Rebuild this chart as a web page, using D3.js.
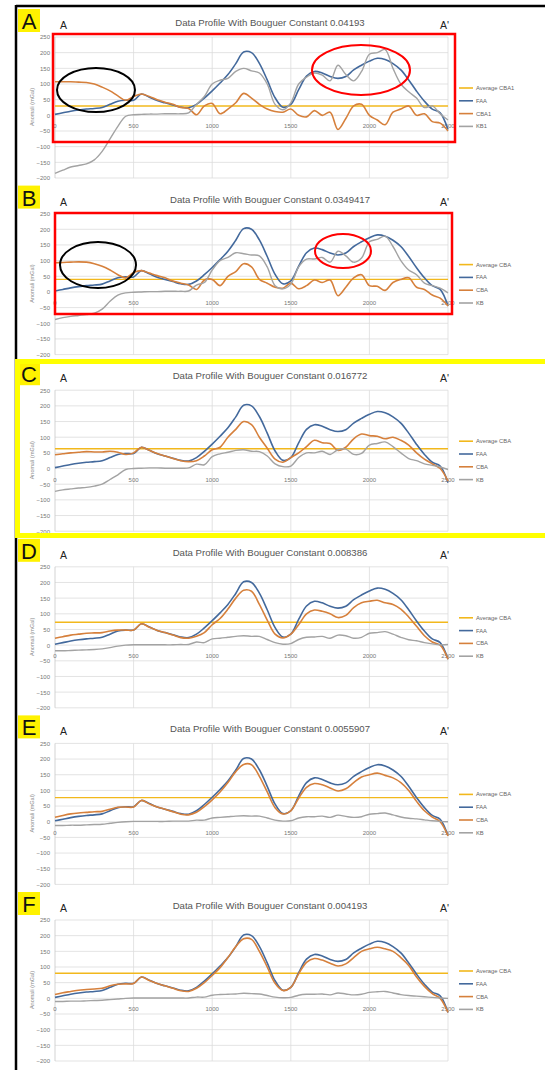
<!DOCTYPE html>
<html>
<head>
  <meta charset="UTF-8">
  <title>Data Profile - Bouguer Constant</title>
  <style>
    body { margin: 0; background: #fff; }
    svg { display: block; font-family: "Liberation Sans", Arial, sans-serif; }
  </style>
</head>
<body>
  <svg width="545" height="1070"></svg>

  <script src="https://d3js.org/d3.v7.min.js"></script>
  <script>
    // distance along profile A - A'
    const distance = [0, 50, 100, 150, 200, 250, 300, 350, 400, 450, 500, 550, 600, 650, 700, 750, 800, 850, 900, 950,
      1000, 1050, 1100, 1150, 1200, 1250, 1300, 1350, 1400, 1450, 1500, 1550, 1600, 1650, 1700, 1750, 1800, 1850, 1900, 1950,
      2000, 2050, 2100, 2150, 2200, 2250, 2300, 2350, 2400, 2450, 2500];

    const xTicks = [0, 500, 1000, 1500, 2000, 2500];
    const yTicks = [250, 200, 150, 100, 50, 0, -50, -100, -150, -200];

    // free air anomaly (same in every panel)
    const faa = [3, 8, 13, 17, 20, 22, 25, 35, 45, 48, 48, 68, 58, 47, 40, 33, 26, 24, 35, 55,
      78, 103, 130, 165, 202, 200, 166, 113, 56, 26, 35, 82, 125, 140, 135, 124, 118, 124, 145, 160,
      173, 182, 178, 165, 145, 113, 77, 45, 20, 8, -45];

    const cbaA = [107, 107, 107, 106, 105, 100, 90, 78, 62, 48, 60, 68, 60, 50, 42, 35, 25, 22, 2, 30,
      38, 5, 20, 40, 70, 55, 35, 20, 12, 10, 20, 0, -5, 15, 0, 10, -45, -10, 30, 35,
      0, -15, -30, 10, 20, 30, 0, 5, -20, -25, -50];
    const kbA = [-185, -175, -165, -160, -155, -142, -115, -75, -35, -3, 2, 3, 4, 4, 5, 5, 5, 8, 35, 60,
      100, 112, 118, 140, 150, 142, 135, 100, 35, 18, 40, 100, 122, 135, 128, 110, 160, 130, 110, 140,
      195, 200, 210, 150, 100, 75, 55, 25, 30, 5, -15];

    const cbaB = [93, 94, 95, 96, 95, 90, 82, 70, 55, 45, 62, 68, 60, 52, 45, 35, 28, 22, 8, 38,
      40, 20, 50, 65, 90, 80, 40, 28, 15, 12, 28, 10, 20, 38, 30, 38, -12, 15, 45, 55,
      20, 18, 5, 30, 40, 45, 15, 8, -10, -20, -45];
    const kbB = [-88, -82, -78, -75, -72, -68, -55, -30, -10, -3, -1, 0, 1, 1, 2, 2, 2, 3, 22, 30,
      70, 100, 110, 125, 122, 118, 115, 80, 20, 10, 25, 80, 105, 105, 110, 95, 130, 115, 95, 108,
      160, 168, 178, 145, 100, 70, 55, 28, 20, 12, -3];

    const cbaC = [44, 47, 50, 52, 54, 53, 53, 55, 52, 45, 50, 68, 58, 48, 40, 32, 25, 22, 25, 40,
      60, 68, 100, 125, 150, 140, 100, 65, 30, 20, 35, 50, 70, 90, 82, 80, 58, 68, 95, 110,
      105, 103, 95, 100, 90, 75, 50, 30, 15, 0, -40];
    const kbC = [-73, -68, -65, -62, -60, -56, -50, -35, -20, -3, 0, 1, 2, 2, 1, 1, 1, 2, 14, 12,
      38, 47, 52, 58, 60, 55, 54, 40, 15, 6, 8, 35, 50, 50, 55, 45, 60, 62, 45, 48,
      75, 80, 85, 70, 50, 32, 25, 15, 10, 5, -3];

    const cbaD = [22, 27, 32, 35, 38, 39, 40, 45, 48, 48, 48, 68, 57, 47, 40, 32, 24, 22, 28, 40,
      65, 85, 115, 150, 175, 172, 130, 80, 35, 23, 35, 65, 100, 112, 108, 100, 88, 95, 120, 135,
      140, 143, 135, 130, 115, 90, 60, 30, 10, 0, -45];
    const kbD = [-18, -18, -17, -16, -15, -14, -12, -8, -3, 0, 1, 1, 1, 1, 1, 1, 2, 2, 10, 8,
      20, 22, 25, 28, 30, 28, 28, 18, 8, 3, 5, 18, 25, 26, 28, 22, 32, 30, 22, 25,
      38, 40, 43, 35, 25, 17, 14, 8, 4, 1, 2];

    const cbaE = [14, 20, 25, 28, 30, 32, 33, 40, 46, 47, 47, 68, 57, 47, 40, 32, 24, 22, 30, 48,
      70, 95, 125, 160, 183, 182, 145, 95, 45, 25, 35, 75, 110, 122, 118, 108, 98, 105, 125, 143,
      150, 155, 148, 140, 125, 100, 65, 35, 15, 0, -45];
    const kbE = [-12, -12, -11, -11, -10, -9, -8, -5, -2, 0, 1, 1, 1, 1, 1, 2, 2, 2, 5, 5,
      12, 14, 16, 18, 19, 18, 18, 12, 5, 2, 3, 12, 16, 16, 18, 14, 21, 17, 14, 16,
      24, 26, 28, 22, 15, 11, 9, 6, 3, 1, 0];

    const cbaF = [12, 18, 22, 26, 28, 30, 32, 40, 45, 46, 47, 68, 57, 47, 40, 32, 24, 22, 32, 50,
      73, 98, 130, 165, 190, 188, 150, 100, 48, 25, 35, 78, 115, 127, 122, 112, 103, 110, 130, 150,
      158, 163, 158, 150, 130, 105, 68, 38, 15, 0, -45];
    const kbF = [-10, -10, -9, -9, -8, -7, -6, -4, -2, 0, 1, 1, 1, 1, 1, 1, 1, 1, 4, 4,
      10, 12, 13, 14, 16, 15, 14, 9, 4, 2, 3, 10, 13, 13, 14, 11, 17, 14, 11, 13,
      19, 21, 22, 17, 12, 9, 7, 5, 3, 1, 0];

    const avgCba = [30, 40, 63, 73, 77, 80];
    const panelLetters = ["A", "B", "C", "D", "E", "F"];
    const constants = ["0.04193", "0.0349417", "0.016772", "0.008386", "0.0055907", "0.004193"];
    const legendA = ["Average CBA1", "FAA", "CBA1", "KB1"];
    const legendOther = ["Average CBA", "FAA", "CBA", "KB"];

    const cbaSets = [cbaA, cbaB, cbaC, cbaD, cbaE, cbaF];
    const kbSets = [kbA, kbB, kbC, kbD, kbE, kbF];

    const colors = { avg: "#f2b81c", faa: "#43699c", cba: "#d6803c", kb: "#a3a3a3" };
    const panelStep = 176.6;

    const svg = d3.select("svg");

    // frame lines
    svg.append("line").attr("x1", 16).attr("x2", 545).attr("y1", 6).attr("y2", 6)
      .attr("stroke", "#000").attr("stroke-width", 2.5);
    svg.append("line").attr("x1", 16).attr("x2", 16).attr("y1", 5).attr("y2", 1070)
      .attr("stroke", "#000").attr("stroke-width", 2.5);

    const x = d3.scaleLinear().domain([0, 2500]).range([55, 448]);

    panelLetters.forEach((letter, i) => {
      const oy = i * panelStep;
      const y = d3.scaleLinear().domain([-200, 250]).range([oy + 178, oy + 37]);
      const g = svg.append("g");

      // gridlines
      g.selectAll(".hgrid").data(yTicks).enter().append("line")
        .attr("x1", x(0)).attr("x2", x(2500))
        .attr("y1", d => y(d)).attr("y2", d => y(d))
        .attr("stroke", "#dcdcdc").attr("stroke-width", 0.8);
      g.selectAll(".vgrid").data(xTicks).enter().append("line")
        .attr("x1", d => x(d)).attr("x2", d => x(d))
        .attr("y1", y(250)).attr("y2", y(-200))
        .attr("stroke", d => d === 0 ? "#c8c8c8" : "#dcdcdc").attr("stroke-width", 0.8);

      // y axis
      const yAxis = g.append("g")
        .attr("transform", `translate(${x(0) - 4},0)`)
        .call(d3.axisLeft(y).tickValues(yTicks).tickSize(0).tickPadding(1));
      yAxis.select(".domain").remove();
      yAxis.selectAll("text").attr("font-size", 6).attr("fill", "#777");

      // x tick labels sit just under the zero line
      g.selectAll(".xlab").data(xTicks).enter().append("text")
        .attr("x", d => x(d)).attr("y", y(0) + 13)
        .attr("text-anchor", "middle").attr("font-size", 6).attr("fill", "#777")
        .text(d => d);

      // y axis title
      g.append("text")
        .attr("transform", `translate(34,${oy + 107}) rotate(-90)`)
        .attr("text-anchor", "middle").attr("font-size", 5.5).attr("fill", "#888")
        .text("Anomali (mGal)");

      // series
      const line = d3.line()
        .x((d, k) => x(distance[k]))
        .y(d => y(d))
        .curve(d3.curveCatmullRom.alpha(0.5));

      g.append("line")
        .attr("x1", x(0)).attr("x2", x(2500))
        .attr("y1", y(avgCba[i])).attr("y2", y(avgCba[i]))
        .attr("stroke", colors.avg).attr("stroke-width", 1.4);
      g.append("path").datum(faa).attr("d", line)
        .attr("fill", "none").attr("stroke", colors.faa).attr("stroke-width", 1.6);
      g.append("path").datum(cbaSets[i]).attr("d", line)
        .attr("fill", "none").attr("stroke", colors.cba).attr("stroke-width", 1.6);
      g.append("path").datum(kbSets[i]).attr("d", line)
        .attr("fill", "none").attr("stroke", colors.kb).attr("stroke-width", 1.4);

      // title and profile ends
      g.append("text").attr("x", 270).attr("y", oy + 26)
        .attr("text-anchor", "middle").attr("font-size", 9.6).attr("fill", "#555")
        .text("Data Profile With  Bouguer Constant " + constants[i]);
      g.append("text").attr("x", 60).attr("y", oy + 29)
        .attr("font-size", 10.5).attr("fill", "#222").text("A");
      g.append("text").attr("x", 440).attr("y", oy + 29)
        .attr("font-size", 10.5).attr("fill", "#222").text("A'");

      // legend
      const names = i === 0 ? legendA : legendOther;
      const legendColors = [colors.avg, colors.faa, colors.cba, colors.kb];
      names.forEach((name, k) => {
        const ly = oy + 88 + k * 12.8;
        g.append("line").attr("x1", 459).attr("x2", 473).attr("y1", ly).attr("y2", ly)
          .attr("stroke", legendColors[k]).attr("stroke-width", 1.6);
        g.append("text").attr("x", 476).attr("y", ly + 2)
          .attr("font-size", 5.8).attr("fill", "#666").text(name);
      });

      // panel letter box
      g.append("rect").attr("x", 18).attr("y", oy + 9).attr("width", 22).attr("height", 23)
        .attr("fill", "#fff200");
      g.append("text").attr("x", 29).attr("y", oy + 29)
        .attr("text-anchor", "middle").attr("font-size", 22).attr("fill", "#111")
        .text(letter);
    });

    // highlight marks on A and B
    const red = "#ff0000";
    svg.append("rect").attr("x", 53).attr("y", 34).attr("width", 402).attr("height", 108)
      .attr("fill", "none").attr("stroke", red).attr("stroke-width", 2.5);
    svg.append("ellipse").attr("cx", 96).attr("cy", 90).attr("rx", 39).attr("ry", 22)
      .attr("fill", "none").attr("stroke", "#000").attr("stroke-width", 2);
    svg.append("ellipse").attr("cx", 361).attr("cy", 70).attr("rx", 49).attr("ry", 25)
      .attr("fill", "none").attr("stroke", red).attr("stroke-width", 2);

    svg.append("rect").attr("x", 55).attr("y", 213).attr("width", 397).attr("height", 101)
      .attr("fill", "none").attr("stroke", red).attr("stroke-width", 2.5);
    svg.append("ellipse").attr("cx", 98).attr("cy", 265).attr("rx", 38).attr("ry", 23)
      .attr("fill", "none").attr("stroke", "#000").attr("stroke-width", 2);
    svg.append("ellipse").attr("cx", 343).attr("cy", 251).attr("rx", 28).attr("ry", 17)
      .attr("fill", "none").attr("stroke", red).attr("stroke-width", 2);

    // yellow frame around panel C
    const yellow = "#ffff00";
    svg.append("rect").attr("x", 15).attr("y", 359).attr("width", 530).attr("height", 5).attr("fill", yellow);
    svg.append("rect").attr("x", 15).attr("y", 359).attr("width", 5).attr("height", 179).attr("fill", yellow);
    svg.append("rect").attr("x", 15).attr("y", 533).attr("width", 530).attr("height", 5).attr("fill", yellow);
  </script>
</body>
</html>
